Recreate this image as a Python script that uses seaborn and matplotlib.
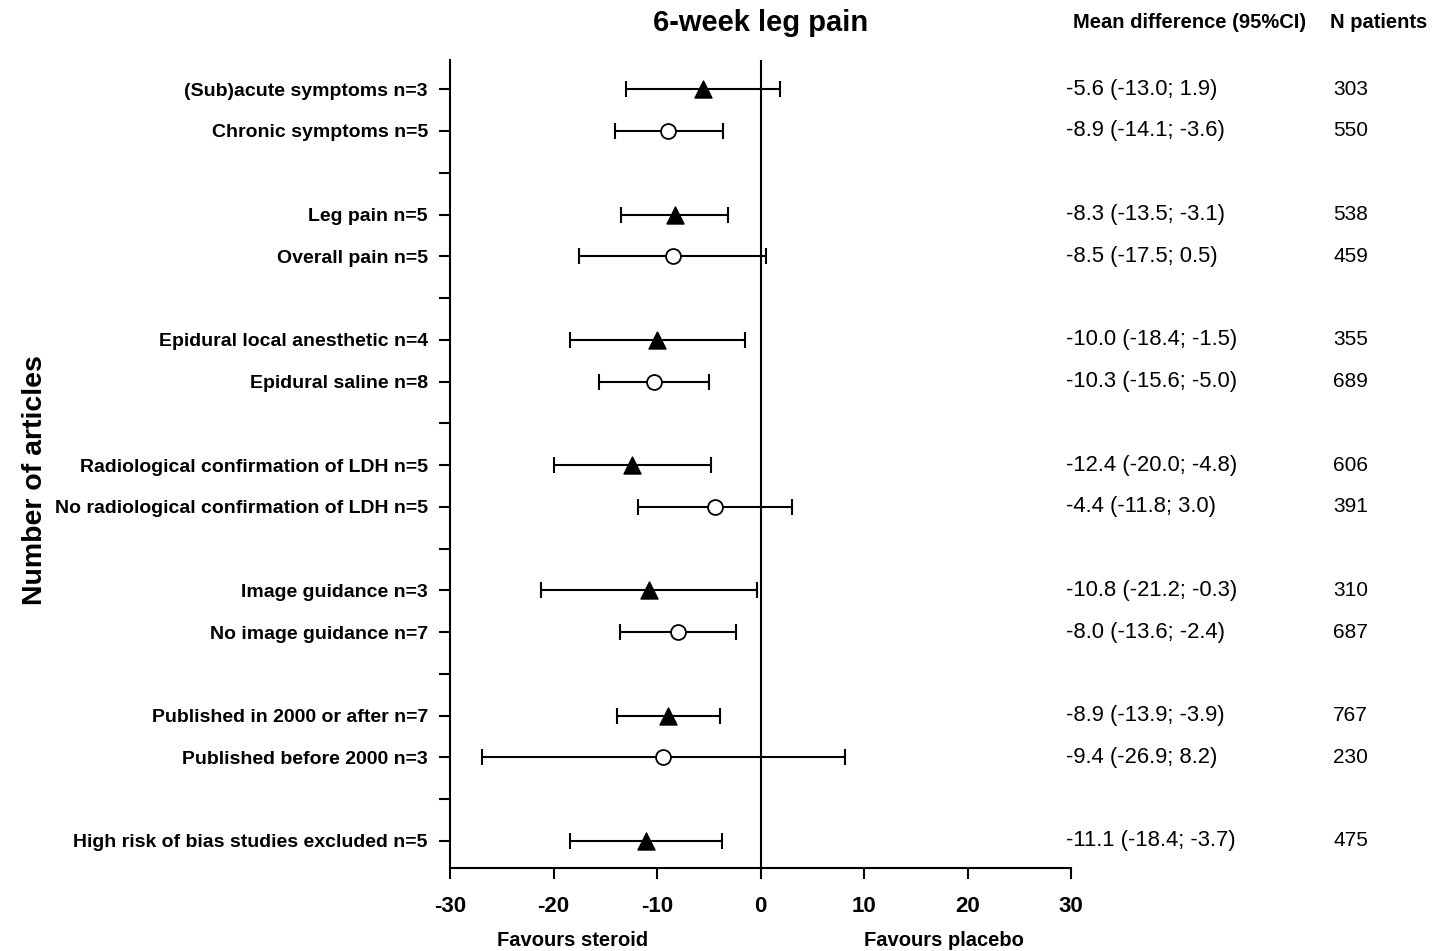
import numpy as np
import pandas as pd
import matplotlib
matplotlib.use("Agg")
import matplotlib.pyplot as plt
import matplotlib.transforms as mtransforms
import seaborn as sns

sns.set_style("ticks")
plt.rcParams['font.family'] = ['Liberation Sans', 'DejaVu Sans']
plt.rcParams['axes.unicode_minus'] = False
plt.rcParams['text.color'] = 'black'
plt.rcParams['xtick.color'] = 'black'
plt.rcParams['ytick.color'] = 'black'
plt.rcParams['axes.edgecolor'] = 'black'

# one entry per row, None = empty spacer row
labels = ["(Sub)acute symptoms n=3", "Chronic symptoms n=5", None,
          "Leg pain n=5", "Overall pain n=5", None,
          "Epidural local anesthetic n=4", "Epidural saline n=8", None,
          "Radiological confirmation of LDH n=5", "No radiological confirmation of LDH n=5", None,
          "Image guidance n=3", "No image guidance n=7", None,
          "Published in 2000 or after n=7", "Published before 2000 n=3", None,
          "High risk of bias studies excluded n=5"]
means = [-5.6, -8.9, None, -8.3, -8.5, None, -10.0, -10.3, None,
         -12.4, -4.4, None, -10.8, -8.0, None, -8.9, -9.4, None, -11.1]
lower = [-13.0, -14.1, None, -13.5, -17.5, None, -18.4, -15.6, None,
         -20.0, -11.8, None, -21.2, -13.6, None, -13.9, -26.9, None, -18.4]
upper = [1.9, -3.6, None, -3.1, 0.5, None, -1.5, -5.0, None,
         -4.8, 3.0, None, -0.3, -2.4, None, -3.9, 8.2, None, -3.7]
n_patients = [303, 550, None, 538, 459, None, 355, 689, None,
              606, 391, None, 310, 687, None, 767, 230, None, 475]
groups = ["a", "b", None, "a", "b", None, "a", "b", None,
          "a", "b", None, "a", "b", None, "a", "b", None, "a"]

rows = pd.DataFrame({"label": labels, "mean": means, "lo": lower, "hi": upper,
                     "n": n_patients, "group": groups})
rows["pos"] = np.arange(len(rows))
df = rows.dropna(subset=["mean"]).copy()

fig = plt.figure(figsize=(14.46, 9.51), dpi=100)
ax = fig.add_axes([0.3112, 0.0873, 0.4295, 0.8496])

ax.axvline(0, color="black", lw=1.5, zorder=1)
ax.errorbar(df["mean"], df["pos"],
            xerr=[df["mean"] - df["lo"], df["hi"] - df["mean"]],
            fmt="none", ecolor="black", elinewidth=1.5, capsize=5.5,
            capthick=1.5, zorder=2)

# filled triangles
sns.scatterplot(data=df[df["group"] == "a"], x="mean", y="pos", marker="^",
                ax=ax, legend=False, s=150, zorder=3, color="black",
                edgecolor="black", linewidth=1.0)
# open circles
sns.scatterplot(data=df[df["group"] == "b"], x="mean", y="pos", marker="o",
                ax=ax, legend=False, s=115, zorder=4, facecolor="white",
                edgecolor="black", linewidth=1.3)

ax.set_xlim(-30, 30)
ax.set_ylim(len(rows) - 1 + 0.65, -0.7)
ax.set_xticks([-30, -20, -10, 0, 10, 20, 30])
ax.set_yticks(rows["pos"])
ax.set_yticklabels([l if l else "" for l in rows["label"]])
for t in ax.get_yticklabels():
    t.set_fontweight("bold")
    t.set_fontsize(14)
for t in ax.get_xticklabels():
    t.set_fontweight("bold")
    t.set_fontsize(16)
ax.tick_params(axis="both", length=8, width=1.5, direction="out")
ax.tick_params(axis="x", pad=12)
ax.tick_params(axis="y", pad=8)
ax.set_xlabel("")
ax.set_ylabel("")
for side in ["top", "right"]:
    ax.spines[side].set_visible(False)
for side in ["left", "bottom"]:
    ax.spines[side].set_linewidth(1.5)

fig.text(0.024, 0.495, "Number of articles", rotation=90, ha="center", va="center",
         fontsize=20.5, fontweight="bold")
fig.text(0.526, 0.976, "6-week leg pain", ha="center", va="center",
         fontsize=21, fontweight="bold")

fig.text(0.396, 0.011, "Favours steroid", ha="center", va="center",
         fontsize=14.5, fontweight="bold")
fig.text(0.653, 0.011, "Favours placebo", ha="center", va="center",
         fontsize=14.5, fontweight="bold")

# right-hand columns, fixed pixel offsets from the axes edge
trans = ax.get_yaxis_transform()
ci_trans = trans + mtransforms.ScaledTranslation(-5 / 100, 0, fig.dpi_scale_trans)
n_trans = trans + mtransforms.ScaledTranslation(262 / 100, 0, fig.dpi_scale_trans)
for _, r in df.iterrows():
    txt = f"{r['mean']:.1f} ({r['lo']:.1f}; {r['hi']:.1f})"
    ax.text(1.0, r["pos"], txt, transform=ci_trans,
            ha="left", va="center", fontsize=15.8, clip_on=False)
    ax.text(1.0, r["pos"], f"{int(r['n'])}", transform=n_trans,
            ha="left", va="center", fontsize=15, clip_on=False)

fig.text(0.742, 0.976, "Mean difference (95%CI)", ha="left", va="center",
         fontsize=14.5, fontweight="bold")
fig.text(0.920, 0.976, "N patients", ha="left", va="center",
         fontsize=14.5, fontweight="bold")

fig.savefig("out.png", dpi=100)
